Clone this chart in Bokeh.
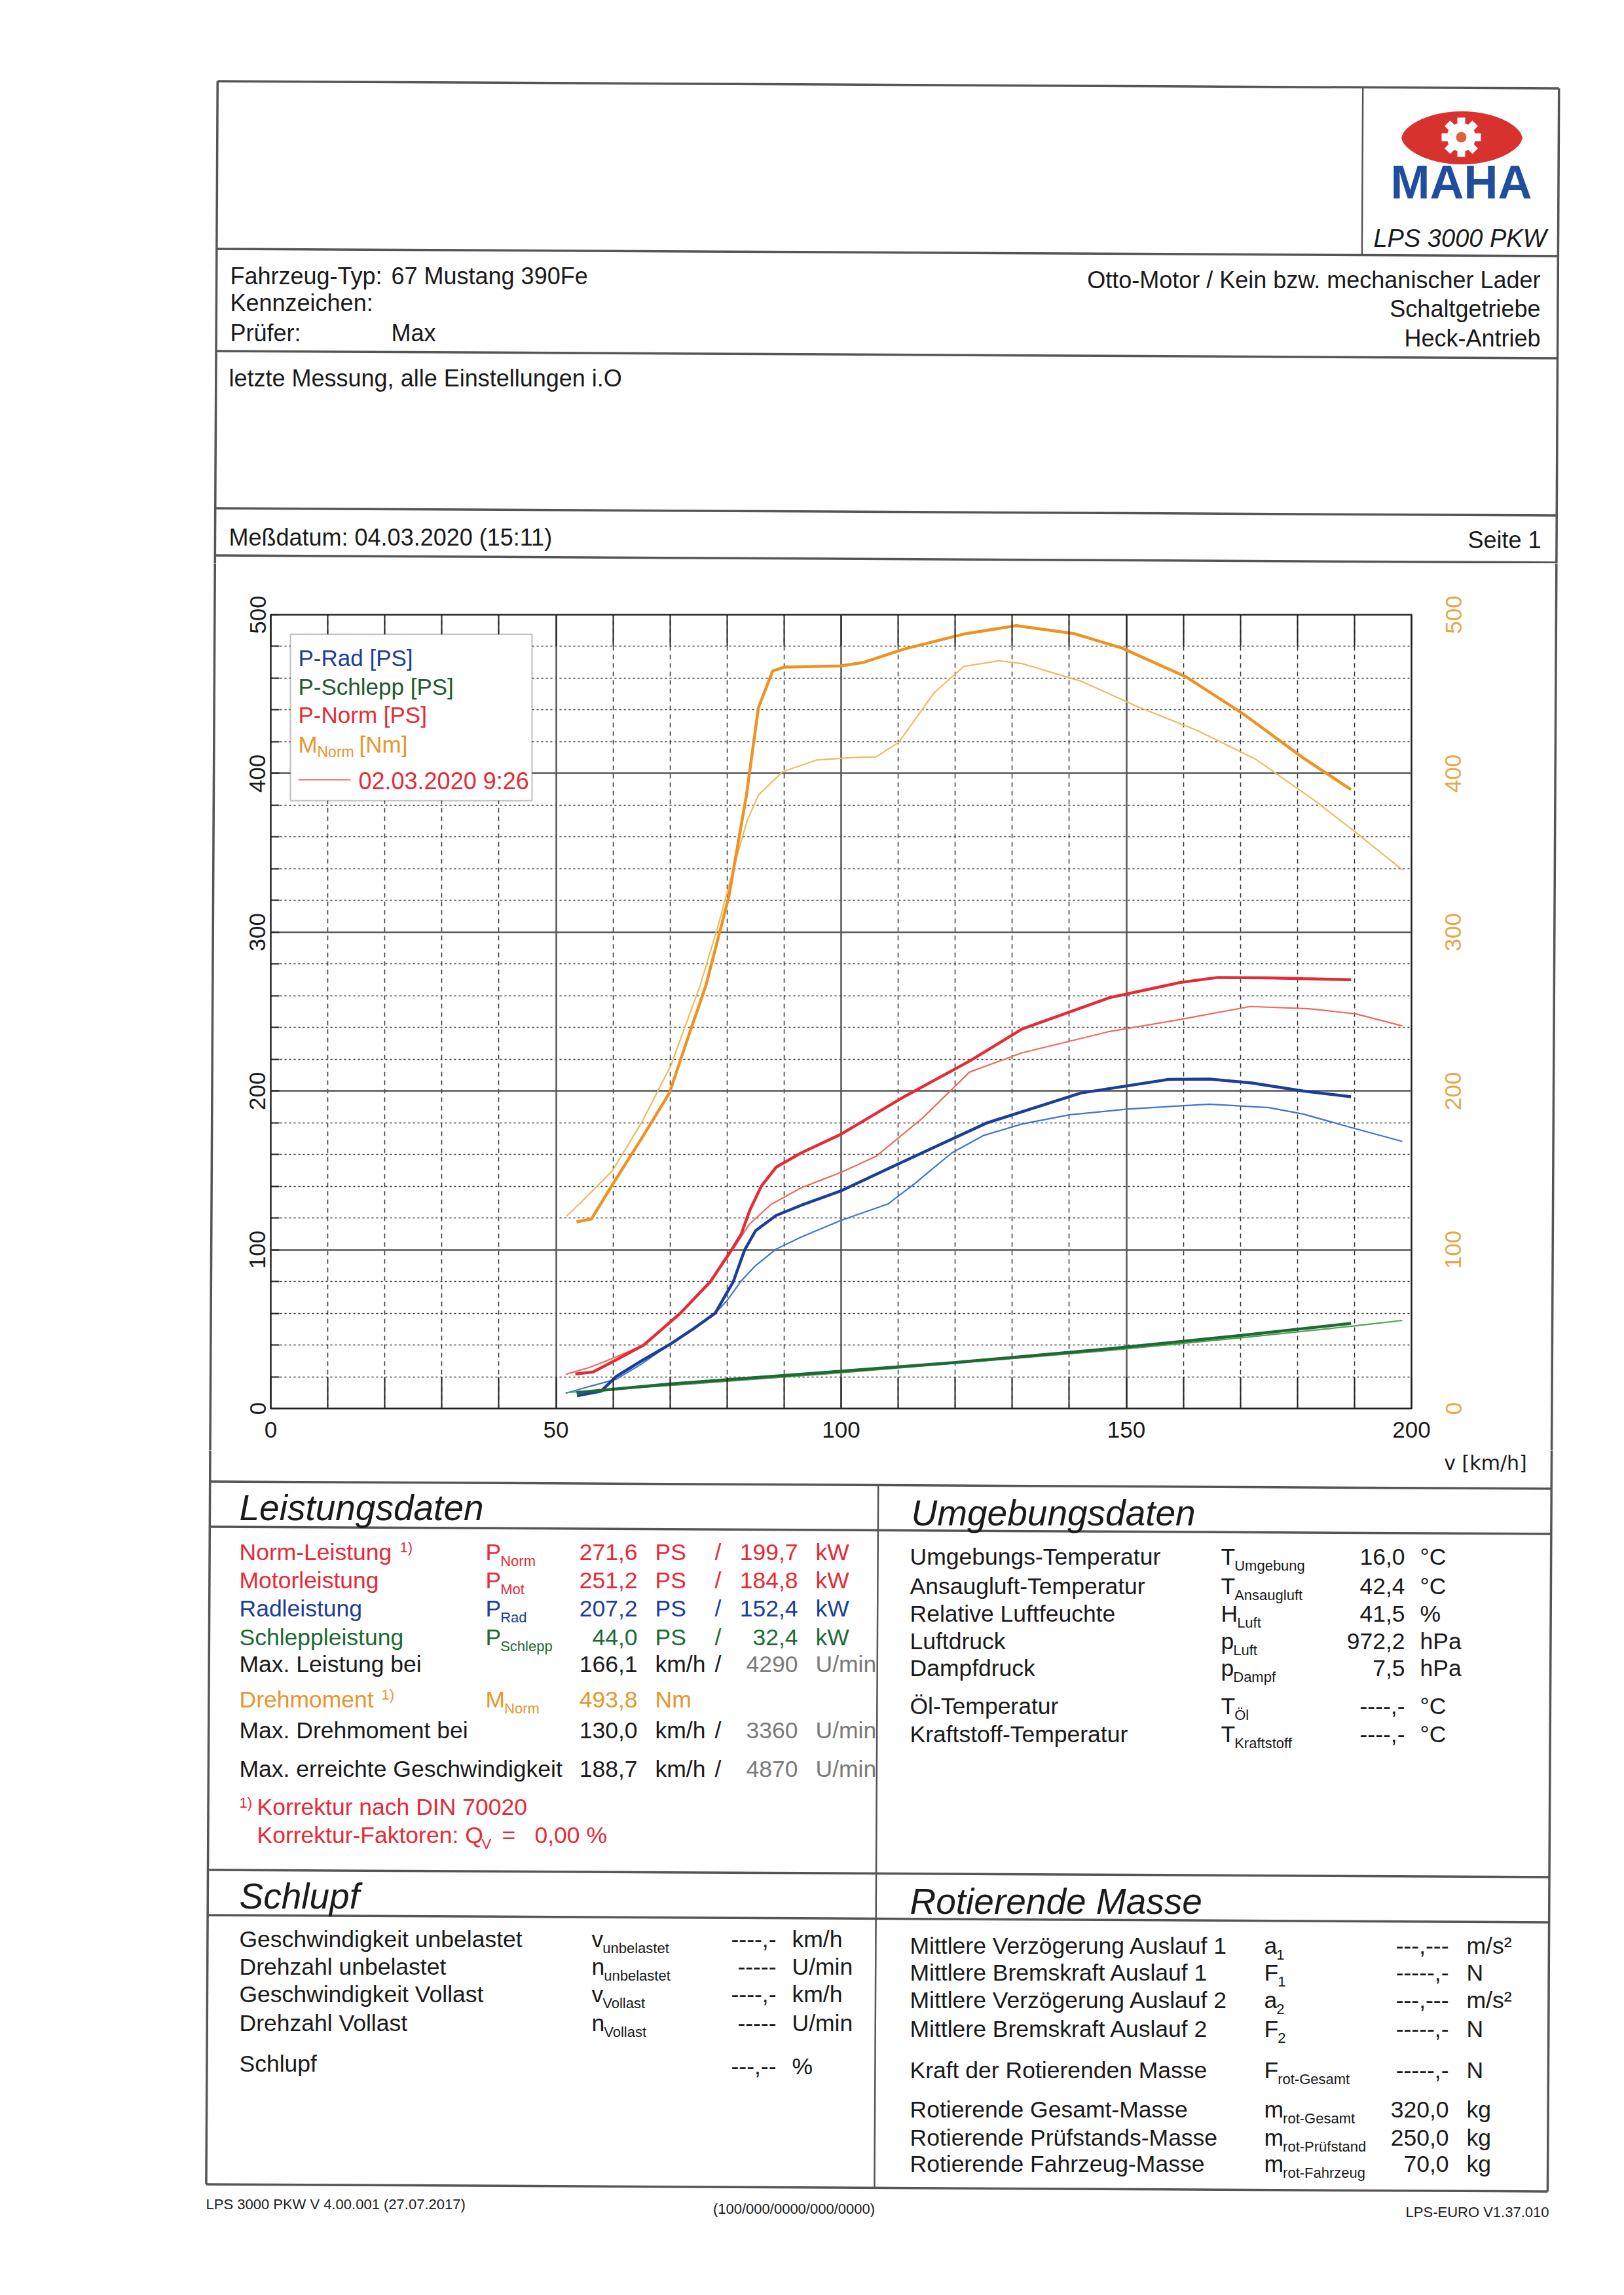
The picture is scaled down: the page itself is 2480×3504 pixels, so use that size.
import math
import numpy as np
from bokeh.plotting import figure
from bokeh.models import Range1d, LinearAxis, FixedTicker, Grid, Label, BoxAnnotation
from bokeh.layouts import column, row
from bokeh.embed import file_html
from bokeh.resources import INLINE
from bokeh.core.properties import value

# ------------------------------------------------------------------ data
# current run (04.03.2020 15:11) - thick lines
v_pnorm = [53.4, 56.5, 60.5, 65.4, 71.8, 77.1, 80.8, 82.5, 84.0, 86.0, 88.6, 93.0, 99.9,
           111.1, 122.5, 131.7, 147.1, 159.4, 166.0, 175.0, 181.0, 189.4]
p_norm = [21.8, 23.0, 30.5, 40.0, 60.0, 80.0, 100.0, 110.0, 125.0, 140.0, 152.0, 161.0, 172.6,
          196.5, 218.8, 239.0, 258.8, 268.3, 271.5, 271.2, 270.7, 270.1]

v_prad = [53.7, 57.9, 60.5, 65.0, 69.8, 74.0, 77.9, 81.1, 83.1, 85.0, 88.6, 93.0, 99.9,
          110.1, 125.5, 142.0, 157.4, 164.6, 172.0, 181.0, 189.4]
p_rad = [8.0, 10.9, 20.0, 30.0, 40.0, 50.0, 60.0, 80.0, 100.0, 112.0, 121.6, 128.0, 137.0,
         154.2, 179.8, 198.7, 207.3, 207.5, 205.0, 200.0, 196.4]

v_pschlepp = [53.6, 70.0, 85.0, 100.0, 120.0, 147.0, 170.0, 189.4]
p_schlepp = [10.0, 15.5, 19.5, 23.5, 29.0, 37.6, 46.0, 53.6]

v_mnorm = [53.6, 56.2, 59.9, 65.0, 69.9, 73.0, 76.3, 80.3, 83.4, 85.5, 88.0, 90.1, 99.9,
           104.0, 111.1, 121.5, 130.7, 140.9, 149.2, 160.5, 170.7, 181.0, 189.4]
m_norm = [117.6, 119.3, 141.0, 170.0, 198.8, 232.0, 266.6, 322.2, 386.4, 441.4, 464.6, 467.0, 467.7,
          470.0, 478.4, 487.8, 493.1, 488.0, 479.0, 460.8, 437.0, 409.8, 389.8]

# previous run (02.03.2020 9:26) - thin lines
v_pnorm_prev = [51.7, 56.0, 60.2, 65.4, 71.8, 77.1, 81.0, 83.9, 87.6, 93.0, 99.9, 106.1, 114.3,
                122.5, 131.7, 147.1, 158.6, 171.7, 182.0, 190.2, 198.4]
p_norm_prev = [21.5, 26.0, 32.0, 40.0, 60.0, 80.0, 100.0, 116.0, 128.3, 139.0, 148.6, 158.8, 183.0,
               211.9, 224.0, 237.5, 244.5, 253.2, 251.8, 248.6, 241.0]

v_prad_prev = [51.7, 56.0, 60.6, 65.0, 69.8, 74.0, 77.9, 80.0, 82.4, 85.0, 88.6, 93.0, 99.9, 108.2,
               113.0, 119.4, 125.0, 131.7, 140.0, 150.2, 164.6, 175.0, 181.0, 189.1, 198.4]
p_rad_prev = [9.6, 14.0, 18.5, 28.0, 40.0, 50.0, 60.0, 68.0, 80.0, 90.0, 100.4, 108.0, 118.4, 128.8,
              142.0, 161.0, 172.0, 179.2, 185.0, 188.6, 191.7, 189.5, 185.5, 177.3, 168.2]

v_pschlepp_prev = [51.7, 70.0, 100.0, 147.0, 170.0, 190.0, 198.4]
p_schlepp_prev = [10.0, 14.5, 22.5, 36.5, 44.5, 52.0, 55.5]

v_mnorm_prev = [51.8, 55.0, 59.9, 65.0, 70.1, 75.3, 78.5, 81.5, 83.5, 85.5, 89.7, 95.7, 102.0,
                106.1, 110.1, 116.3, 121.5, 127.6, 131.7, 142.0, 152.2, 162.5, 172.8, 183.0, 190.2, 198.4]
m_norm_prev = [121.0, 132.0, 149.8, 180.0, 215.7, 266.6, 305.0, 345.0, 370.0, 386.4, 401.0, 408.5, 410.0,
               410.4, 419.6, 450.8, 467.4, 471.0, 469.2, 458.2, 441.7, 427.0, 408.7, 383.0, 363.0, 339.3]

x_ticks = [0, 50, 100, 150, 200]
y_ticks = [0, 100, 200, 300, 400, 500]

legend_labels = ["P-Rad [PS]", "P-Schlepp [PS]", "P-Norm [PS]"]
prev_run_label = "02.03.2020 9:26"
x_axis_title = "v [km/h]"

# header texts
vehicle_keys = ["Fahrzeug-Typ:", "Kennzeichen:", "Prüfer:"]
vehicle_vals = ["67 Mustang 390Fe", "", "Max"]
engine_info = ["Otto-Motor / Kein bzw. mechanischer Lader", "Schaltgetriebe", "Heck-Antrieb"]
remark = "letzte Messung, alle Einstellungen i.O"
date_text = "Meßdatum: 04.03.2020 (15:11)"
page_text = "Seite 1"

# Leistungsdaten
leist_labels = ["Norm-Leistung", "Motorleistung", "Radleistung", "Schleppleistung",
                "Max. Leistung bei", "Drehmoment", "Max. Drehmoment bei", "Max. erreichte Geschwindigkeit"]
leist_sym = ["P", "P", "P", "P", "", "M", "", ""]
leist_sub = ["Norm", "Mot", "Rad", "Schlepp", "", "Norm", "", ""]
leist_val1 = ["271,6", "251,2", "207,2", "44,0", "166,1", "493,8", "130,0", "188,7"]
leist_unit1 = ["PS", "PS", "PS", "PS", "km/h", "Nm", "km/h", "km/h"]
leist_val2 = ["199,7", "184,8", "152,4", "32,4", "4290", "", "3360", "4870"]
leist_unit2 = ["kW", "kW", "kW", "kW", "U/min", "", "U/min", "U/min"]

# Umgebungsdaten
umg_labels = ["Umgebungs-Temperatur", "Ansaugluft-Temperatur", "Relative Luftfeuchte", "Luftdruck",
              "Dampfdruck", "Öl-Temperatur", "Kraftstoff-Temperatur"]
umg_sym = ["T", "T", "H", "p", "p", "T", "T"]
umg_sub = ["Umgebung", "Ansaugluft", "Luft", "Luft", "Dampf", "Öl", "Kraftstoff"]
umg_vals = ["16,0", "42,4", "41,5", "972,2", "7,5", "----,-", "----,-"]
umg_units = ["°C", "°C", "%", "hPa", "hPa", "°C", "°C"]

# Schlupf
sch_labels = ["Geschwindigkeit unbelastet", "Drehzahl unbelastet", "Geschwindigkeit Vollast",
              "Drehzahl Vollast", "Schlupf"]
sch_sym = ["v", "n", "v", "n", ""]
sch_sub = ["unbelastet", "unbelastet", "Vollast", "Vollast", ""]
sch_vals = ["----,-", "-----", "----,-", "-----", "---,--"]
sch_units = ["km/h", "U/min", "km/h", "U/min", "%"]

# Rotierende Masse
rot_labels = ["Mittlere Verzögerung Auslauf 1", "Mittlere Bremskraft Auslauf 1",
              "Mittlere Verzögerung Auslauf 2", "Mittlere Bremskraft Auslauf 2",
              "Kraft der Rotierenden Masse", "Rotierende Gesamt-Masse",
              "Rotierende Prüfstands-Masse", "Rotierende Fahrzeug-Masse"]
rot_sym = ["a", "F", "a", "F", "F", "m", "m", "m"]
rot_sub = ["1", "1", "2", "2", "rot-Gesamt", "rot-Gesamt", "rot-Prüfstand", "rot-Fahrzeug"]
rot_vals = ["---,---", "-----,-", "---,---", "-----,-", "-----,-", "320,0", "250,0", "70,0"]
rot_units = ["m/s²", "N", "m/s²", "N", "N", "kg", "kg", "kg"]

footer_texts = ["LPS 3000 PKW V 4.00.001 (27.07.2017)", "(100/000/0000/000/0000)", "LPS-EURO V1.37.010"]

# ------------------------------------------------------------------ styling
FONT = "Liberation Sans"
RED = "#e42b36"
RED_THIN = "#ef6a5e"
BLUE = "#1b3e98"
BLUE_THIN = "#3f74d0"
GREEN = "#1e6a34"
GREEN_THIN = "#4ea24e"
ORANGE = "#ee9221"
ORANGE_THIN = "#e9bd62"
ORANGE_TXT = "#e6962f"
AXIS_ORANGE = "#e8a548"
GRAY = "#7a7a7a"
INK = "#1a1a1a"
LINE = "#555555"
BODY = 35.5
TITLE = 55

# page geometry (reference pixel coordinates, page origin = canvas origin);
# the scanned sheet is turned by ~0.3 degrees
PAGE_W = 2464
SKEW = 0.0054
LEFT_X, RIGHT_X = 323, 2371.5
HDR_TOP, BAND_TOP, BAND_BOT, PAGE_BOT = 0, 860, 2214, 3488
FRAME_L, FRAME_R, FRAME_T, FRAME_B = 413, 2155, 938, 2150
PX_PER_UNIT = (FRAME_B - FRAME_T) / 500.0

CHAR_W = {"P": 0.667, "M": 0.833, "T": 0.611, "H": 0.722, "p": 0.556, "v": 0.5, "n": 0.556,
          "a": 0.556, "F": 0.611, "m": 0.833}


def no_frame_align(p):
    try:
        p.frame_align = False
    except Exception:
        pass


def rot(x, y):
    return x - SKEW * (y - 1750), y + SKEW * (x - 1352)


def page_fig(w, h, x0, x1, y_top, y_bot):
    p = figure(width=w, height=h, x_range=Range1d(x0, x1), y_range=Range1d(y_bot, y_top),
               output_backend="svg", toolbar_location=None,
               x_axis_location=None, y_axis_location=None, min_border=0)
    p.grid.visible = False
    p.outline_line_color = None
    p.background_fill_color = "white"
    p.border_fill_color = "white"
    no_frame_align(p)
    return p


def T(p, x, y, s, size=BODY, color=INK, align="left", style="normal", baseline="middle", font=FONT):
    if s == "":
        return
    p.text(x=[x], y=[y], text=[s], text_font=value(font), text_font_size=f"{size}px",
           text_color=color, text_align=align, text_baseline=baseline, text_font_style=style)


def hline(p, y, xa=LEFT_X, xb=RIGHT_X, w=3.5, **kw):
    (ax, ay), (bx, by) = rot(xa, y), rot(xb, y)
    p.segment(x0=[ax], y0=[ay], x1=[bx], y1=[by], line_color=LINE, line_width=w, **kw)


def vline(p, x, ya, yb, w=3.5, **kw):
    (ax, ay), (bx, by) = rot(x, ya), rot(x, yb)
    p.segment(x0=[ax], y0=[ay], x1=[bx], y1=[by], line_color=LINE, line_width=w, **kw)


def sym_sub(p, x, y, sym, sub, color, size=BODY, subsize=22):
    if sym == "":
        return
    T(p, x, y, sym, size, color)
    T(p, x + CHAR_W.get(sym, 0.6) * size - 1, y + 14, sub, subsize, color)


# ------------------------------------------------------------------ header
hdr = page_fig(PAGE_W, BAND_TOP - HDR_TOP, 0, PAGE_W, HDR_TOP, BAND_TOP)
for yy in [129, 385, 541, 781, 853]:
    hline(hdr, yy)
vline(hdr, LEFT_X, 129, 900)
vline(hdr, RIGHT_X, 129, 900)
vline(hdr, 2072, 129, 385, w=2.5)

# MAHA logo
t = np.linspace(-1, 1, 70)
lens_x = list(2232 + 92 * t) + list(2232 + 92 * t[::-1])
lens_y = list(210 - 40 * (1 - t ** 2) ** 0.6) + list(210 + 40 * (1 - t[::-1] ** 2) ** 0.6)
hdr.patch(lens_x, lens_y, fill_color="#d8322e", line_color="#d8322e")
gx, gy = 2231, 209
hdr.rect(x=[gx] * 4, y=[gy] * 4, width=12, height=60, angle=[0, math.pi / 4, math.pi / 2, 3 * math.pi / 4],
         fill_color="white", line_color=None)
hdr.circle(x=[gx], y=[gy], radius=22, fill_color="white", line_color=None)
hdr.circle(x=[gx], y=[gy], radius=8, fill_color="#e0603a", line_color=None)
T(hdr, 2231, 277, "MAHA", 72, "#1f4e9e", align="center", style="bold")
T(hdr, 2229, 363, "LPS 3000 PKW", 38, INK, align="center", style="italic")

for i, (k, vtxt) in enumerate(zip(vehicle_keys, vehicle_vals)):
    yy = [421, 462, 508][i]
    T(hdr, 351, yy, k, 36)
    T(hdr, 597, yy, vtxt, 36)
for i, s in enumerate(engine_info):
    T(hdr, 2352, [427, 471, 516][i], s, 36, align="right")
T(hdr, 349, 577, remark, 36)
T(hdr, 349, 820, date_text, 36)
T(hdr, 2353, 824, page_text, 36, align="right")

# ------------------------------------------------------------------ chart band
BAND_H = BAND_BOT - BAND_TOP
LS_R = 345
ls = page_fig(LS_R, BAND_H, 0, LS_R, BAND_TOP, BAND_BOT)
vline(ls, LEFT_X, BAND_TOP - 40, BAND_BOT + 40)

PC_L, PC_R = LS_R, 2190
pc = figure(width=PC_R - PC_L, height=BAND_H, x_range=Range1d(0, 200), y_range=Range1d(0, 500),
            output_backend="svg", toolbar_location=None,
            x_axis_location=None, y_axis_location=None,
            min_border_left=FRAME_L - PC_L, min_border_right=PC_R - FRAME_R,
            min_border_top=FRAME_T - BAND_TOP, min_border_bottom=BAND_BOT - FRAME_B)
no_frame_align(pc)
pc.grid.visible = False
pc.outline_line_color = "#222222"
pc.outline_line_width = 2.5
pc.background_fill_color = "white"
pc.border_fill_color = "white"

minor_x = [v for v in range(10, 200, 10) if v % 50]
minor_y = [v for v in range(20, 500, 20) if v % 100]
pc.add_layout(Grid(dimension=0, ticker=FixedTicker(ticks=minor_x), grid_line_color="#333333",
                   grid_line_dash="7 6", grid_line_width=1.5))
pc.add_layout(Grid(dimension=1, ticker=FixedTicker(ticks=minor_y), grid_line_color="#333333",
                   grid_line_dash="3 4", grid_line_width=1.6))
pc.add_layout(Grid(dimension=0, ticker=FixedTicker(ticks=[50, 100, 150]), grid_line_color="#555555",
                   grid_line_width=2.5))
pc.add_layout(Grid(dimension=1, ticker=FixedTicker(ticks=[100, 200, 300, 400]), grid_line_color="#555555",
                   grid_line_width=2.5))


def style_axis(ax):
    ax.axis_line_color = None
    ax.major_tick_in = 0
    ax.major_tick_out = 0
    ax.minor_tick_out = 0
    ax.minor_tick_line_color = "#222222"
    ax.minor_tick_line_width = 2
    ax.major_label_text_font = FONT
    ax.major_label_text_font_size = "35px"
    ax.major_label_text_color = INK


xb = LinearAxis(ticker=FixedTicker(ticks=x_ticks, minor_ticks=list(range(0, 201, 10))))
style_axis(xb)
xb.minor_tick_in = 48
xb.major_label_standoff = 20
pc.add_layout(xb, "below")

xa = LinearAxis(ticker=FixedTicker(ticks=[], minor_ticks=list(range(0, 201, 10))))
style_axis(xa)
xa.minor_tick_in = 48
xa.major_label_standoff = 0
pc.add_layout(xa, "above")

yl = LinearAxis(ticker=FixedTicker(ticks=y_ticks, minor_ticks=list(range(0, 501, 20))))
style_axis(yl)
yl.minor_tick_in = 13
yl.major_label_orientation = "vertical"
yl.major_label_standoff = 8
pc.add_layout(yl, "left")

# curves: previous run (thin) then current run (thick); torque on the Nm scale
pc.extra_y_ranges = {"nm": Range1d(0, 500)}
pc.line(v_mnorm_prev, m_norm_prev, line_color=ORANGE_THIN, line_width=2.2, y_range_name="nm")
pc.line(v_pnorm_prev, p_norm_prev, line_color=RED_THIN, line_width=2.2)
pc.line(v_prad_prev, p_rad_prev, line_color=BLUE_THIN, line_width=2.2)
pc.line(v_pschlepp_prev, p_schlepp_prev, line_color=GREEN_THIN, line_width=2.2)

pc.line(v_mnorm, m_norm, line_color=ORANGE, line_width=4.5, y_range_name="nm")
pc.line(v_pnorm, p_norm, line_color=RED, line_width=4.5)
pc.line(v_prad, p_rad, line_color=BLUE, line_width=4.5)
pc.line(v_pschlepp, p_schlepp, line_color=GREEN, line_width=4.5)


def dx(px):
    return (px - FRAME_L) * 200.0 / (FRAME_R - FRAME_L)


def dy(py):
    return (FRAME_B - py) / PX_PER_UNIT


# legend box
pc.add_layout(BoxAnnotation(left=dx(443), right=dx(812), bottom=dy(1222), top=dy(968), fill_color="white",
                            fill_alpha=1.0, line_color="#222222", line_width=2))
leg_cols = [BLUE, "#1f5a30", RED]
leg_y = [1004, 1048, 1091]
for lab, col, yy in zip(legend_labels, leg_cols, leg_y):
    pc.add_layout(Label(x=dx(455), y=dy(yy), text=lab, text_font=FONT, text_font_size="35px",
                        text_color=col, text_baseline="middle"))
pc.add_layout(Label(x=dx(455), y=dy(1136), text="M", text_font=FONT, text_font_size="35px",
                    text_color=ORANGE_TXT, text_baseline="middle"))
pc.add_layout(Label(x=dx(484), y=dy(1147), text="Norm", text_font=FONT, text_font_size="23px",
                    text_color=ORANGE_TXT, text_baseline="middle"))
pc.add_layout(Label(x=dx(548), y=dy(1136), text="[Nm]", text_font=FONT, text_font_size="35px",
                    text_color=ORANGE_TXT, text_baseline="middle"))
pc.segment(x0=[dx(455)], y0=[dy(1190)], x1=[dx(535)], y1=[dy(1190)], line_color=RED_THIN, line_width=2.2,
           level="overlay")
pc.add_layout(Label(x=dx(547), y=dy(1192), text=prev_run_label, text_font=FONT, text_font_size="36px",
                    text_color=RED, text_baseline="middle"))

# right strip: torque axis (Nm) + page border
RS_FRAME_L = 2231
rs = figure(width=PAGE_W - PC_R, height=BAND_H, x_range=Range1d(RS_FRAME_L, PAGE_W),
            y_range=Range1d(dy(BAND_BOT), dy(BAND_TOP)),
            output_backend="svg", toolbar_location=None,
            x_axis_location=None, y_axis_location=None,
            min_border_left=RS_FRAME_L - PC_R, min_border_right=0, min_border_top=0, min_border_bottom=0)
no_frame_align(rs)
rs.grid.visible = False
rs.outline_line_color = None
rs.background_fill_color = "white"
rs.border_fill_color = "white"
rs.extra_y_ranges = {"page": Range1d(BAND_BOT, BAND_TOP)}
yr = LinearAxis(ticker=FixedTicker(ticks=y_ticks))
style_axis(yr)
yr.minor_tick_in = 0
yr.major_label_text_color = AXIS_ORANGE
yr.major_label_orientation = "vertical"
yr.major_label_standoff = 0
rs.add_layout(yr, "left")
vline(rs, RIGHT_X, BAND_TOP - 40, BAND_BOT + 40, y_range_name="page")

band = row(ls, pc, rs, spacing=0)

# ------------------------------------------------------------------ bottom tables
bot = page_fig(PAGE_W, PAGE_BOT - BAND_BOT, 0, PAGE_W, BAND_BOT, PAGE_BOT)
for yy in [2267, 2336, 2860, 2929, 3340]:
    hline(bot, yy)
vline(bot, LEFT_X, BAND_BOT - 40, 3340)
vline(bot, RIGHT_X, BAND_BOT - 40, 3340)
vline(bot, 1343.5, 2267, 3340, w=2.5)

T(bot, 2268, 2233, x_axis_title, 30, INK, align="center", font="DejaVu Sans")

# Leistungsdaten
T(bot, 365, 2301, "Leistungsdaten", TITLE, INK, style="italic")
leist_y = [2369, 2412, 2455, 2499, 2540, 2594, 2641, 2700]
row_col = [RED, RED, BLUE, GREEN, INK, ORANGE_TXT, INK, INK]
for i in range(len(leist_labels)):
    c = row_col[i]
    y = leist_y[i]
    T(bot, 365, y, leist_labels[i], BODY, c)
    sym_sub(bot, 741, y, leist_sym[i], leist_sub[i], c)
    T(bot, 973, y, leist_val1[i], BODY, c, align="right")
    T(bot, 1000, y, leist_unit1[i], BODY, c)
    if leist_val2[i]:
        c2 = GRAY if leist_unit2[i] == "U/min" else c
        T(bot, 1096, y, "/", BODY, INK if c2 == GRAY else c2, align="center")
        T(bot, 1218, y, leist_val2[i], BODY, c2, align="right")
        T(bot, 1245, y, leist_unit2[i], BODY, c2)
T(bot, 610, 2362, "1)", 22, RED)
T(bot, 582, 2587, "1)", 22, ORANGE_TXT)
T(bot, 365, 2752, "1)", 22, RED)
T(bot, 392, 2758, "Korrektur nach DIN 70020", BODY, RED)
T(bot, 392, 2801, "Korrektur-Faktoren: Q", BODY, RED)
T(bot, 735, 2815, "V", 22, RED)
T(bot, 766, 2801, "=", BODY, RED)
T(bot, 816, 2801, "0,00 %", BODY, RED)

# Umgebungsdaten
T(bot, 1391, 2309, "Umgebungsdaten", TITLE, INK, style="italic")
umg_y = [2376, 2421, 2463, 2505, 2546, 2604, 2647]
for i in range(len(umg_labels)):
    y = umg_y[i]
    T(bot, 1389, y, umg_labels[i], BODY)
    sym_sub(bot, 1864, y, umg_sym[i], umg_sub[i], INK)
    T(bot, 2145, y, umg_vals[i], BODY, align="right")
    T(bot, 2168, y, umg_units[i], BODY)

# Schlupf
T(bot, 365, 2894, "Schlupf", TITLE, INK, style="italic")
sch_y = [2960, 3002, 3044, 3088, 3150]
for i in range(len(sch_labels)):
    y = sch_y[i]
    T(bot, 365, y, sch_labels[i], BODY)
    sym_sub(bot, 903, y, sch_sym[i], sch_sub[i], INK)
    T(bot, 1185, y + (4 if i == 4 else 0), sch_vals[i], BODY, align="right")
    T(bot, 1209, y + (4 if i == 4 else 0), sch_units[i], BODY)

# Rotierende Masse
T(bot, 1389, 2902, "Rotierende Masse", TITLE, INK, style="italic")
rot_y = [2970, 3011, 3053, 3097, 3160, 3220, 3263, 3303]
for i in range(len(rot_labels)):
    y = rot_y[i]
    T(bot, 1389, y, rot_labels[i], BODY)
    sym_sub(bot, 1930, y, rot_sym[i], rot_sub[i], INK)
    T(bot, 2212, y, rot_vals[i], BODY, align="right")
    T(bot, 2239, y, rot_units[i], BODY)

# footer
T(bot, 314, 3365, footer_texts[0], 22)
T(bot, 1212, 3372, footer_texts[1], 22, align="center")
T(bot, 2365, 3377, footer_texts[2], 22, align="right")

layout = column(hdr, band, bot, spacing=0)
open("out.html", "w").write(file_html(layout, INLINE))
